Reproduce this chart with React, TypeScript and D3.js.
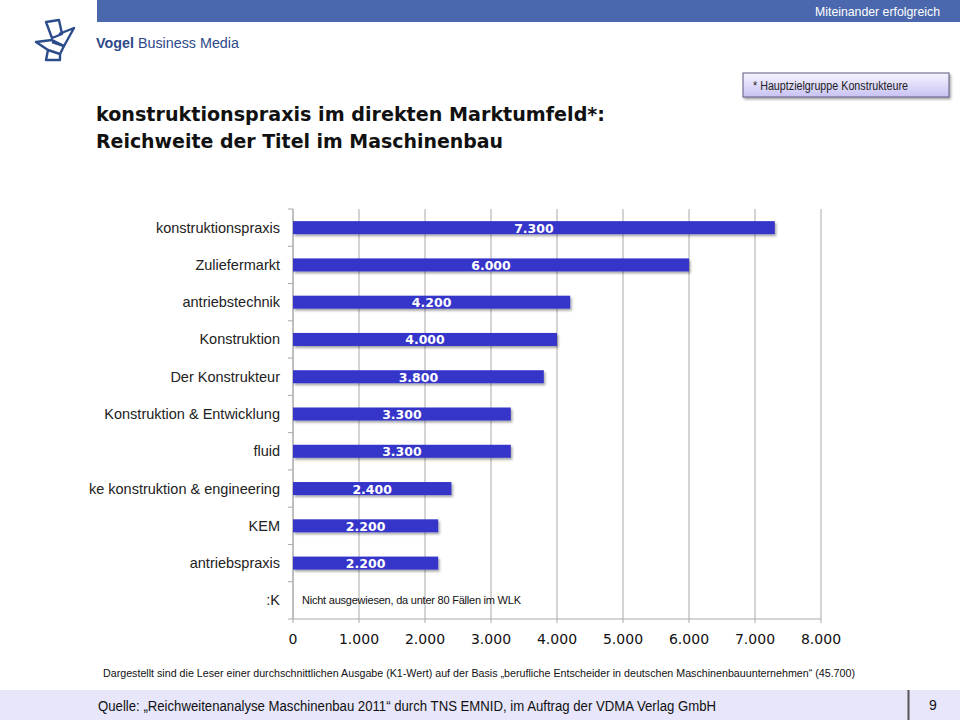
import React from "react";
import * as d3 from "d3";

const categories = [
  "konstruktionspraxis",
  "Zuliefermarkt",
  "antriebstechnik",
  "Konstruktion",
  "Der Konstrukteur",
  "Konstruktion & Entwicklung",
  "fluid",
  "ke konstruktion & engineering",
  "KEM",
  "antriebspraxis",
  ":K",
];
const values: (number | null)[] = [7300, 6000, 4200, 4000, 3800, 3300, 3300, 2400, 2200, 2200, null];
const xTicks = [0, 1000, 2000, 3000, 4000, 5000, 6000, 7000, 8000];
const noteK = "Nicht ausgewiesen, da unter 80 Fällen im WLK";

const fmt = (v: number) => (v === 0 ? "0" : d3.format(",")(v).replace(/,/g, "."));

export default function App() {
  const W = 960, H = 720;
  const x = d3.scaleLinear().domain([0, 8000]).range([293, 821]);
  const y = d3.scaleBand<string>().domain(categories).range([209, 619]);
  const barH = 13;
  const barColor = "#3434c9";
  const sans = "'DejaVu Sans', Verdana, sans-serif";
  const lib = "'Liberation Sans', Arial, sans-serif";

  return (
    <svg width={W} height={H} style={{ position: "absolute", left: 0, top: 0, background: "#fff" }}>
      <defs>
        <filter id="sh" x="-5%" y="-50%" width="110%" height="200%">
          <feDropShadow dx="1.5" dy="2" stdDeviation="1.2" floodColor="#000" floodOpacity="0.35" />
        </filter>
        <linearGradient id="boxg" x1="0" y1="0" x2="0" y2="1">
          <stop offset="0" stopColor="#f6f4ff" />
          <stop offset="1" stopColor="#c8c2f3" />
        </linearGradient>
      </defs>

      {/* header band */}
      <rect x={97} y={0} width={863} height={22} fill="#4b67ad" />
      <text x={940} y={16} textAnchor="end" fill="#fff" fontFamily={lib} fontSize={13.5} textLength={125} lengthAdjust="spacingAndGlyphs">
        Miteinander erfolgreich
      </text>

      {/* logo */}
      <g fill="none" stroke="#2c4b8b" strokeWidth={2.4} strokeLinejoin="round">
        <path d="M46,22 L59,20 L62,34 L52,38 Z" />
        <path d="M59,34 L74,28 L64,46 L52,42" />
        <path d="M36,42 L52,40 L64,46 L60,54 L48,50 Z" />
        <path d="M48,50 L46,60 L60,60 L60,54" />
      </g>
      <text x={96} y={48} fontFamily={lib} fontSize={15.5} fill="#2d4a8a" textLength={143} lengthAdjust="spacingAndGlyphs">
        <tspan fontWeight="bold">Vogel</tspan> Business Media
      </text>

      {/* box */}
      <rect x={743} y={73} width={206} height={24} fill="url(#boxg)" stroke="#5a5a80" strokeWidth={1} filter="url(#sh)" />
      <text x={753} y={90} fontFamily={lib} fontSize={12.5} fill="#222" textLength={155} lengthAdjust="spacingAndGlyphs">
        * Hauptzielgruppe Konstrukteure
      </text>

      {/* title */}
      <text x={96} y={121} fontFamily={sans} fontWeight="bold" fontSize={19.5} fill="#111" textLength={509} lengthAdjust="spacingAndGlyphs">
        konstruktionspraxis im direkten Marktumfeld*:
      </text>
      <text x={96} y={148} fontFamily={sans} fontWeight="bold" fontSize={19.5} fill="#111" textLength={407} lengthAdjust="spacingAndGlyphs">
        Reichweite der Titel im Maschinenbau
      </text>

      {/* gridlines and x ticks */}
      {xTicks.map((t) => (
        <g key={t}>
          <line x1={x(t)} x2={x(t)} y1={209} y2={623} stroke="#aaa" strokeWidth={1} />
          <text x={x(t)} y={644} textAnchor="middle" fontFamily={sans} fontSize={14} fill="#111">
            {fmt(t)}
          </text>
        </g>
      ))}
      {/* axes */}
      <line x1={293} x2={821} y1={619} y2={619} stroke="#aaa" />
      <line x1={293} x2={293} y1={209} y2={619} stroke="#aaa" />
      {[...categories.map((c) => y(c) as number), 619].map((yy, i) => (
        <line key={i} x1={288} x2={293} y1={yy} y2={yy} stroke="#aaa" />
      ))}

      {/* category labels */}
      {categories.map((c) => (
        <text key={c} x={280} y={(y(c) as number) + y.bandwidth() / 2 + 5} textAnchor="end" fontFamily={lib} fontSize={14.5} fill="#222">
          {c}
        </text>
      ))}

      {/* bars */}
      {categories.map((c, i) => {
        const v = values[i];
        if (v == null) return null;
        const cy = (y(c) as number) + y.bandwidth() / 2;
        return (
          <g key={c}>
            <rect x={x(0)} y={cy - barH / 2} width={x(v) - x(0)} height={barH} fill={barColor} filter="url(#sh)" />
            <text x={(x(0) + x(v)) / 2} y={cy + 5} textAnchor="middle" fontFamily={sans} fontWeight="bold" fontSize={12.5} fill="#fff">
              {fmt(v)}
            </text>
          </g>
        );
      })}
      <text x={302} y={(y(":K") as number) + y.bandwidth() / 2 + 4} fontFamily={lib} fontSize={11} fill="#111" textLength={219}>
        {noteK}
      </text>

      {/* footnote */}
      <text x={103} y={677} fontFamily={lib} fontSize={10.5} fill="#111" textLength={752} lengthAdjust="spacingAndGlyphs">
        Dargestellt sind die Leser einer durchschnittlichen Ausgabe (K1-Wert) auf der Basis „berufliche Entscheider in deutschen Maschinenbauunternehmen“ (45.700)
      </text>

      {/* footer */}
      <rect x={0} y={690} width={960} height={30} fill="#e7e6fb" />
      <line x1={908.5} x2={908.5} y1={690} y2={720} stroke="#555" strokeWidth={2} />
      <text x={98} y={711} fontFamily={lib} fontSize={14} fill="#111" textLength={618} lengthAdjust="spacingAndGlyphs">
        Quelle: „Reichweitenanalyse Maschinenbau 2011“ durch TNS EMNID, im Auftrag der VDMA Verlag GmbH
      </text>
      <text x={933} y={710} textAnchor="middle" fontFamily={lib} fontSize={14} fill="#111">9</text>
    </svg>
  );
}
